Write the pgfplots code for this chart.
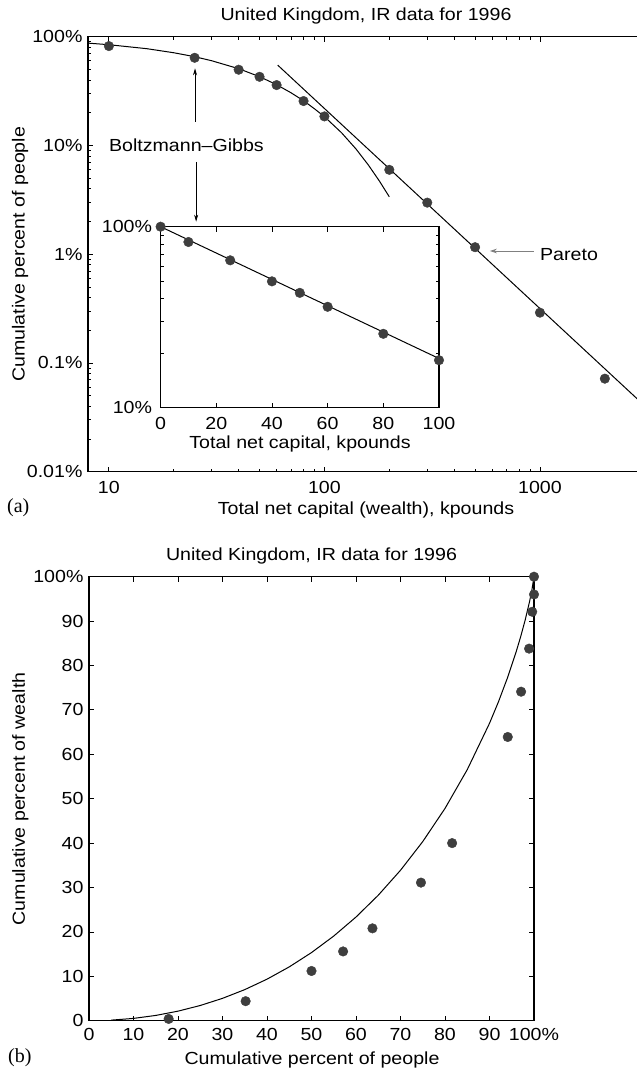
\documentclass[border=0pt]{standalone}
\usepackage{fontspec}
\setmainfont{Liberation Sans}[FakeStretch=1.12]
\newfontfamily\seriffont{Liberation Serif}
\usepackage{pgfplots}
\pgfplotsset{compat=1.18}
\usetikzlibrary{arrows.meta}
\definecolor{markgray}{RGB}{62,62,62}
\newcommand{\fs}{\fontsize{17.5}{21}\selectfont}
\begin{document}
\begin{tikzpicture}[font=\fs]
\useasboundingbox (0,0) rectangle (637pt,1069pt);
\pgfplotsset{
  myax/.style={
    scale only axis,
    axis line style={line width=1.4pt},
    tick style={black, line width=0.8pt},
    major tick length=5pt, minor tick length=3pt,
    tick align=inside,
    tick label style={font=\fs},
    clip=false,
  },
  dots/.style={only marks, mark=*, mark size=4.8pt, mark options={fill=markgray, draw=markgray}},
  fit/.style={black, line width=1pt, no markers},
}
% ---------------- (a) ----------------
\begin{axis}[myax, at={(88pt,597.3pt)}, anchor=south west,
  width=554.8pt, height=435pt,
  xmode=log, ymode=log, xmin=8, xmax=3000, ymin=0.01, ymax=100,
  xtick={10,100,1000}, xticklabels={10,100,1000},
  ytick={0.01,0.1,1,10,100}, yticklabels={0.01\%,0.1\%,1\%,10\%,100\%},
  xticklabel style={anchor=base, yshift=-22.3pt},
  yticklabel style={xshift=-2pt},
]
\addplot[fit] coordinates {(8,87.3) (10,84.4) (15,77.6) (20,71.2) (25,65.5) (30,60.1) (40,50.8) (50,42.9) (60,36.2) (70,30.5) (80,25.8) (90,21.7) (100,18.4) (120,13.1) (140,9.3) (160,6.6) (180,4.7) (200,3.37)};
\addplot[fit] coordinates {(60.7,54.8) (3000,0.0419)};
\addplot[dots] coordinates {(10,82) (25,64) (40,49.7) (50,42.8) (60,35.9) (80,25.6) (100,18.5) (200,5.97) (300,2.98) (500,1.16) (1000,0.29) (2000,0.0717)};
\node[anchor=west, inner sep=0pt] at (axis cs:10,10) {Boltzmann--Gibbs};
\draw[line width=0.7pt, -{Stealth[length=7pt,width=4pt]}] (axis cs:25.1,16.5) -- (axis cs:25.1,51.2);
\draw[line width=0.7pt, -{Stealth[length=7pt,width=4pt]}] (axis cs:25.4,7.08) -- (axis cs:25.4,1.99);
\node[anchor=west, inner sep=0pt] at (axis cs:1000,1) {Pareto};
\draw[gray, line width=1pt, -{Stealth[length=7pt,width=4.5pt]}] (axis cs:935,1.07) -- (axis cs:585,1.07);
\end{axis}
% inset
\begin{axis}[myax, at={(160.6pt,661.3pt)}, anchor=south west,
  width=278.4pt, height=181pt,
  axis background/.style={fill=white},
  ymode=log, xmin=0, xmax=100, ymin=10, ymax=100,
  xtick={0,20,40,60,80,100}, xticklabels={0,20,40,60,80,100},
  ytick={10,100}, yticklabels={10\%,100\%},
  xticklabel style={anchor=base, yshift=-22.3pt},
  yticklabel style={xshift=-5pt},
]
\addplot[fit] coordinates {(0,100) (100,18.7)};
\addplot[dots] coordinates {(0,100) (10,82.3) (25,65.2) (40,49.9) (50,43.1) (60,36.1) (80,25.6) (100,18.3)};
\end{axis}
% ---------------- (b) ----------------
\begin{axis}[myax, at={(89pt,48.3pt)}, anchor=south west,
  width=445pt, height=444pt,
  xmin=0, xmax=100, ymin=0, ymax=100,
  xtick={0,10,...,100}, xticklabels={0,10,20,30,40,50,60,70,80,90,100\%},
  ytick={0,10,...,100}, yticklabels={0,10,20,30,40,50,60,70,80,90,100\%},
  xticklabel style={anchor=base, yshift=-19.3pt},
  yticklabel style={xshift=-2pt},
]
\addplot[fit] coordinates {(5,0.127) (10,0.518) (15,1.186) (20,2.149) (25,3.424) (30,5.033) (35,6.999) (40,9.35) (45,12.119) (50,15.343) (55,19.067) (60,23.348) (65,28.256) (70,33.881) (75,40.343) (80,47.811) (85,56.543) (90,66.974) (92,71.794) (94,77.12) (96,83.124) (97,86.48) (98,90.176) (99,94.395) (99.5,96.851) (100,100)};
\addplot[dots] coordinates {(17.9,0.4) (35.2,4.4) (50,11.2) (57.1,15.6) (63.7,20.8) (74.6,31.1) (81.6,40) (94.1,63.9) (97.1,74.1) (98.9,83.8) (99.6,92.1) (100,96) (100,100)};
\end{axis}
% texts
\node[anchor=base] at (366pt,1048.3pt) {United Kingdom, IR data for 1996};
\node[anchor=base] at (366pt,554.7pt) {Total net capital (wealth), kpounds};
\node[anchor=base, rotate=90] at (24.5pt,814.7pt) {Cumulative percent of people};
\node[anchor=base west, inner sep=0pt] at (7pt,556pt) {\fontsize{20}{24}\seriffont (a)};
\node[anchor=base] at (300pt,620pt) {Total net capital, kpounds};
\node[anchor=base] at (311.5pt,508.2pt) {United Kingdom, IR data for 1996};
\node[anchor=base] at (312pt,5pt) {Cumulative percent of people};
\node[anchor=base, rotate=90] at (24.8pt,270.1pt) {Cumulative percent of wealth};
\node[anchor=base west, inner sep=0pt] at (8pt,6pt) {\fontsize{20}{24}\seriffont (b)};
\end{tikzpicture}
\end{document}
